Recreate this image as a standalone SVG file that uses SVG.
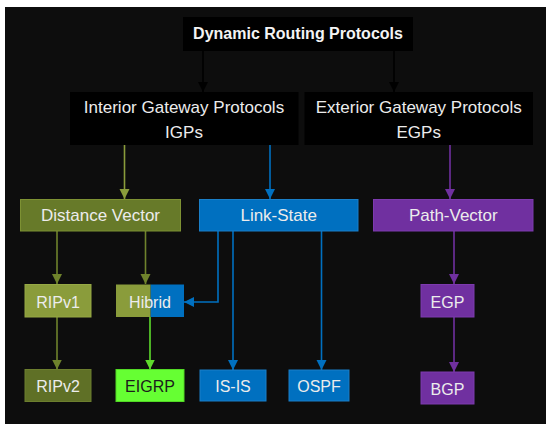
<svg xmlns="http://www.w3.org/2000/svg" width="546" height="424" viewBox="0 0 546 424">
<defs>
<style>
text{font-family:"Liberation Sans",Arial,sans-serif;fill:#ececec;text-anchor:middle}
.t{font-size:16px;font-weight:bold;fill:#f4f4f4}
.h{font-size:17px}
.s{font-size:16px}
.blk{fill:#000}
.dv{fill:#677a29;stroke:#7d9133;stroke-width:1}
.lt{fill:#8a9c3b;stroke:#96a845;stroke-width:1}
.dk{fill:#5f7026;stroke:#6c7e2e;stroke-width:1}
.bl{fill:#0070c0;stroke:#1a7fc8;stroke-width:1}
.pu{fill:#7030a0;stroke:#7d3aae;stroke-width:1}
.gr{fill:#66ff33;stroke:#52d925;stroke-width:1}
.c{fill:none;stroke-width:1.6}
</style>
<marker id="aK" viewBox="0 0 10 10" refX="10" refY="5" markerWidth="10" markerHeight="11" markerUnits="userSpaceOnUse" orient="auto"><path d="M0,0L10,5L0,10z" fill="#000"/></marker>
<marker id="aO" viewBox="0 0 10 10" refX="10" refY="5" markerWidth="10" markerHeight="11" markerUnits="userSpaceOnUse" orient="auto"><path d="M0,0L10,5L0,10z" fill="#8a9c3b"/></marker>
<marker id="aD" viewBox="0 0 10 10" refX="10" refY="5" markerWidth="10" markerHeight="11" markerUnits="userSpaceOnUse" orient="auto"><path d="M0,0L10,5L0,10z" fill="#6f832c"/></marker>
<marker id="aG" viewBox="0 0 10 10" refX="10" refY="5" markerWidth="10" markerHeight="11" markerUnits="userSpaceOnUse" orient="auto"><path d="M0,0L10,5L0,10z" fill="#5edc2c"/></marker>
<marker id="aB" viewBox="0 0 10 10" refX="10" refY="5" markerWidth="10" markerHeight="11" markerUnits="userSpaceOnUse" orient="auto"><path d="M0,0L10,5L0,10z" fill="#0070c0"/></marker>
<marker id="aP" viewBox="0 0 10 10" refX="10" refY="5" markerWidth="10" markerHeight="11" markerUnits="userSpaceOnUse" orient="auto"><path d="M0,0L10,5L0,10z" fill="#7030a0"/></marker>
</defs>
<rect x="0" y="0" width="546" height="424" fill="#ffffff"/>
<rect x="5" y="7" width="541" height="417" fill="#0d0d0d"/>

<g id="connectors">
<line class="c" x1="203" y1="51" x2="203" y2="92" stroke="#000" marker-end="url(#aK)"/>
<line class="c" x1="394" y1="51" x2="394" y2="92" stroke="#000" marker-end="url(#aK)"/>
<line class="c" x1="124.5" y1="145" x2="124.5" y2="199" stroke="#8a9c3b" marker-end="url(#aO)"/>
<line class="c" x1="270" y1="145" x2="270" y2="199" stroke="#0070c0" marker-end="url(#aB)"/>
<line class="c" x1="450" y1="145" x2="450" y2="199" stroke="#7030a0" marker-end="url(#aP)"/>
<line class="c" x1="57" y1="231" x2="57" y2="284" stroke="#6f832c" marker-end="url(#aD)"/>
<line class="c" x1="145.5" y1="231" x2="145.5" y2="284" stroke="#6f832c" marker-end="url(#aD)"/>
<line class="c" x1="57" y1="317" x2="57" y2="369.5" stroke="#6f832c" marker-end="url(#aD)"/>
<line class="c" x1="150" y1="317" x2="150" y2="369.5" stroke="#5edc2c" marker-end="url(#aG)"/>
<polyline class="c" points="218,231 218,302 184,302" stroke="#0070c0" marker-end="url(#aB)"/>
<line class="c" x1="233" y1="231" x2="233" y2="370" stroke="#0070c0" marker-end="url(#aB)"/>
<line class="c" x1="321.5" y1="231" x2="321.5" y2="370" stroke="#0070c0" marker-end="url(#aB)"/>
<line class="c" x1="454" y1="231" x2="454" y2="284" stroke="#7030a0" marker-end="url(#aP)"/>
<line class="c" x1="454" y1="317" x2="454" y2="372" stroke="#7030a0" marker-end="url(#aP)"/>
</g>

<g id="dynamic"><rect class="blk" x="183" y="17" width="230" height="34"/><text class="t" x="298" y="38.5">Dynamic Routing Protocols</text></g>
<g id="igp"><rect class="blk" x="70" y="92" width="228.5" height="53"/><text class="h" x="184" y="113">Interior Gateway Protocols</text><text class="h" x="184" y="138">IGPs</text></g>
<g id="egp-group"><rect class="blk" x="304.5" y="92" width="228.5" height="53"/><text class="h" x="418.7" y="113">Exterior Gateway Protocols</text><text class="h" x="418.7" y="138">EGPs</text></g>

<g id="distance-vector"><rect class="dv" x="20.5" y="199.5" width="160" height="31.5"/><text class="h" x="100.5" y="221">Distance Vector</text></g>
<g id="link-state"><rect class="bl" x="199.5" y="199.5" width="158.5" height="31.5"/><text class="h" x="278.7" y="221">Link-State</text></g>
<g id="path-vector"><rect class="pu" x="373.5" y="199.5" width="159.5" height="31.5"/><text class="h" x="453.3" y="221">Path-Vector</text></g>

<g id="ripv1"><rect class="lt" x="25" y="284.5" width="66" height="32.5"/><text class="s" x="58" y="307.5">RIPv1</text></g>
<g id="hibrid"><rect x="116" y="284.5" width="34.7" height="32.5" fill="#8a9c3b"/><rect x="150.7" y="284.5" width="33.3" height="32.5" fill="#0070c0"/><text class="s" x="150" y="307.5">Hibrid</text></g>
<g id="egp"><rect class="pu" x="421" y="284.5" width="53" height="32.5"/><text class="s" x="447.5" y="307.5">EGP</text></g>

<g id="ripv2"><rect class="dk" x="25" y="369.5" width="66" height="32"/><text class="s" x="58" y="391.5">RIPv2</text></g>
<g id="eigrp"><rect class="gr" x="116" y="369.5" width="68" height="32"/><text class="s" x="150" y="391.5" style="fill:#1c1c1c">EIGRP</text></g>
<g id="is-is"><rect class="bl" x="200" y="370" width="66" height="31"/><text class="s" x="233" y="391.5">IS-IS</text></g>
<g id="ospf"><rect class="bl" x="289" y="370" width="60" height="31"/><text class="s" x="319" y="391.5">OSPF</text></g>
<g id="bgp"><rect class="pu" x="421" y="372" width="53" height="32"/><text class="s" x="447.5" y="394.5">BGP</text></g>
</svg>
